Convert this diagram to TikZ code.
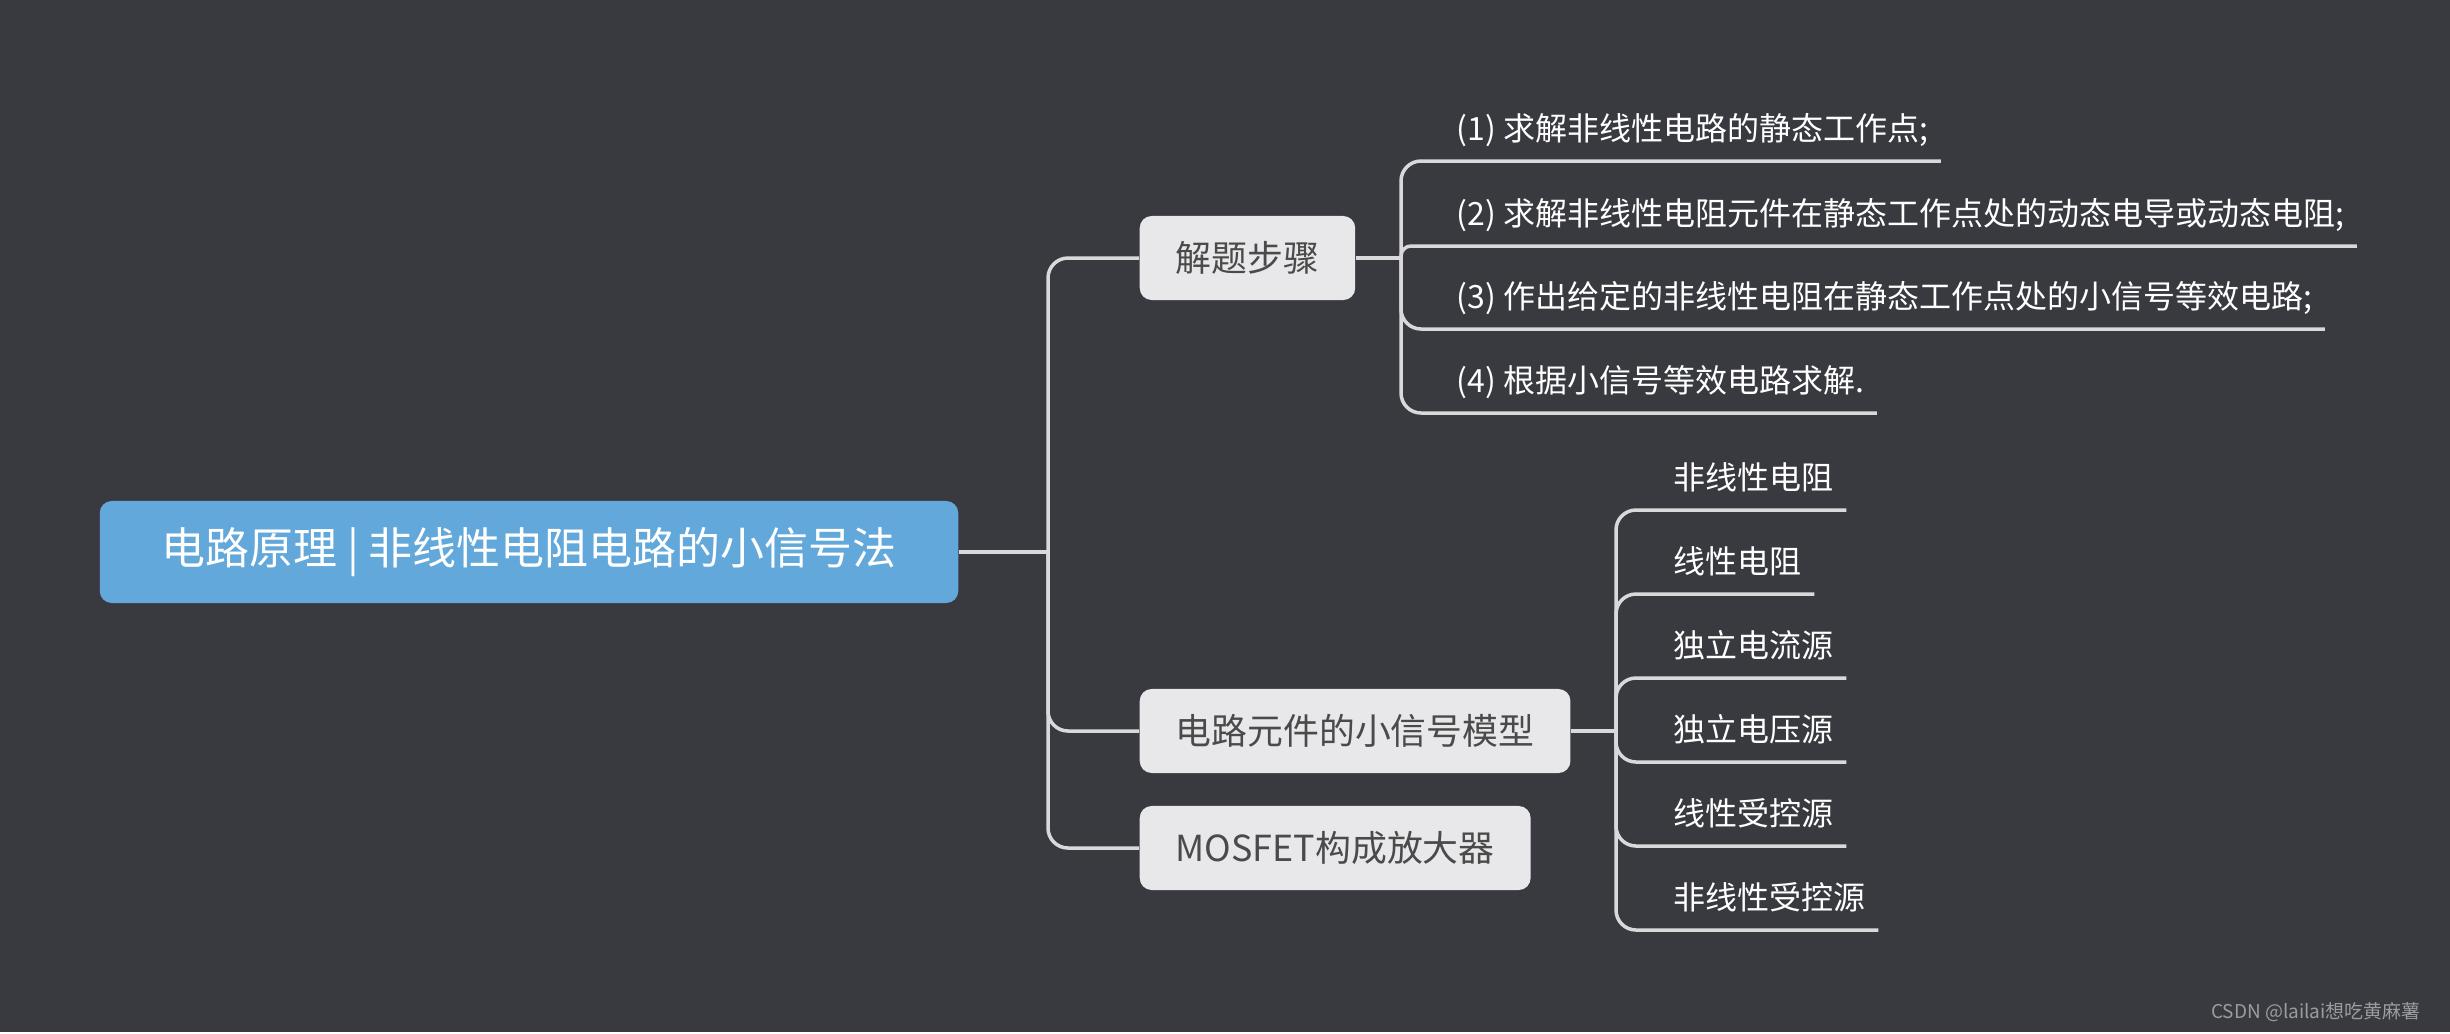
\documentclass[tikz,border=0pt]{standalone}
\usepackage{fontspec}
\setmainfont{Noto Sans CJK SC}
\usetikzlibrary{positioning}

\definecolor{bgdark}{HTML}{393A40}
\definecolor{rootblue}{HTML}{62A8DA}
\definecolor{boxgrey}{HTML}{E8E8EA}
\definecolor{linkgrey}{HTML}{D9D9DB}
\definecolor{subtext}{HTML}{4A4A4A}
\definecolor{marktext}{HTML}{9C9C9E}

\tikzset{
  rootbox/.style={fill=rootblue,rounded corners=0.12cm,minimum width=8.58cm,
    minimum height=1.02cm,text=white,font=\fontsize{12.5}{15}\selectfont},
  topicbox/.style={fill=boxgrey,rounded corners=0.12cm,minimum height=0.84cm,
    inner xsep=0.36cm,text=subtext,font=\fontsize{10.2}{12}\selectfont},
  leaf/.style={inner xsep=0.12cm,inner ysep=0pt,text height=0.5cm,
    text depth=0.2cm,text=white,font=\fontsize{9.1}{11}\selectfont},
  link/.style={draw=linkgrey,line width=0.035cm,rounded corners=0.2cm},
}

\begin{document}
\begin{tikzpicture}[x=0.01cm,y=-0.01cm]
  \fill[bgdark] (0,0) rectangle (2450,1032);
  % root and main topics
  \node[rootbox] (root) at (529,552) {电路原理 | 非线性电阻电路的小信号法};
  \node[topicbox,anchor=west] (steps) at (1139,258) {解题步骤};
  \node[topicbox,anchor=west] (model) at (1139,731) {电路元件的小信号模型};
  \node[topicbox,anchor=west] (mosfet) at (1139,848) {MOSFET构成放大器};
  \coordinate (trunk) at (1048,552);
  \coordinate (stepbus) at (1401,258);
  \coordinate (modelbus) at (1616,731);
  \draw[link] (root) -- (trunk);
  \foreach \t in {steps,model,mosfet} \draw[link] (trunk) |- (\t.west);
  \draw[link] (steps) -- (stepbus);
  \draw[link] (model) -- (modelbus);
  % leaves
  \foreach \n/\y/\r/\t in {1/161/0.2cm/{(1) 求解非线性电路的静态工作点;},
      2/246/0.1cm/{(2) 求解非线性电阻元件在静态工作点处的动态电导或动态电阻;},
      3/329/0.2cm/{(3) 作出给定的非线性电阻在静态工作点处的小信号等效电路;},
      4/413/0.2cm/{(4) 根据小信号等效电路求解.}} {
    \node[leaf,anchor=south west] (s\n) at (1444,\y) {\t};
    \draw[link,rounded corners=\r] (stepbus) |- (s\n.south east);
  }
  \foreach \n/\y/\t in {1/510/非线性电阻,2/594/线性电阻,3/678/独立电流源,
      4/762/独立电压源,5/846/线性受控源,6/930/非线性受控源} {
    \node[leaf,anchor=south west] (m\n) at (1661,\y) {\t};
    \draw[link] (modelbus) |- (m\n.south east);
  }
  \node[anchor=east,text=marktext,font=\fontsize{5.4}{6}\selectfont] (mark)
    at (2433,1012) {CSDN @lailai想吃黄麻薯};
\end{tikzpicture}
\end{document}
